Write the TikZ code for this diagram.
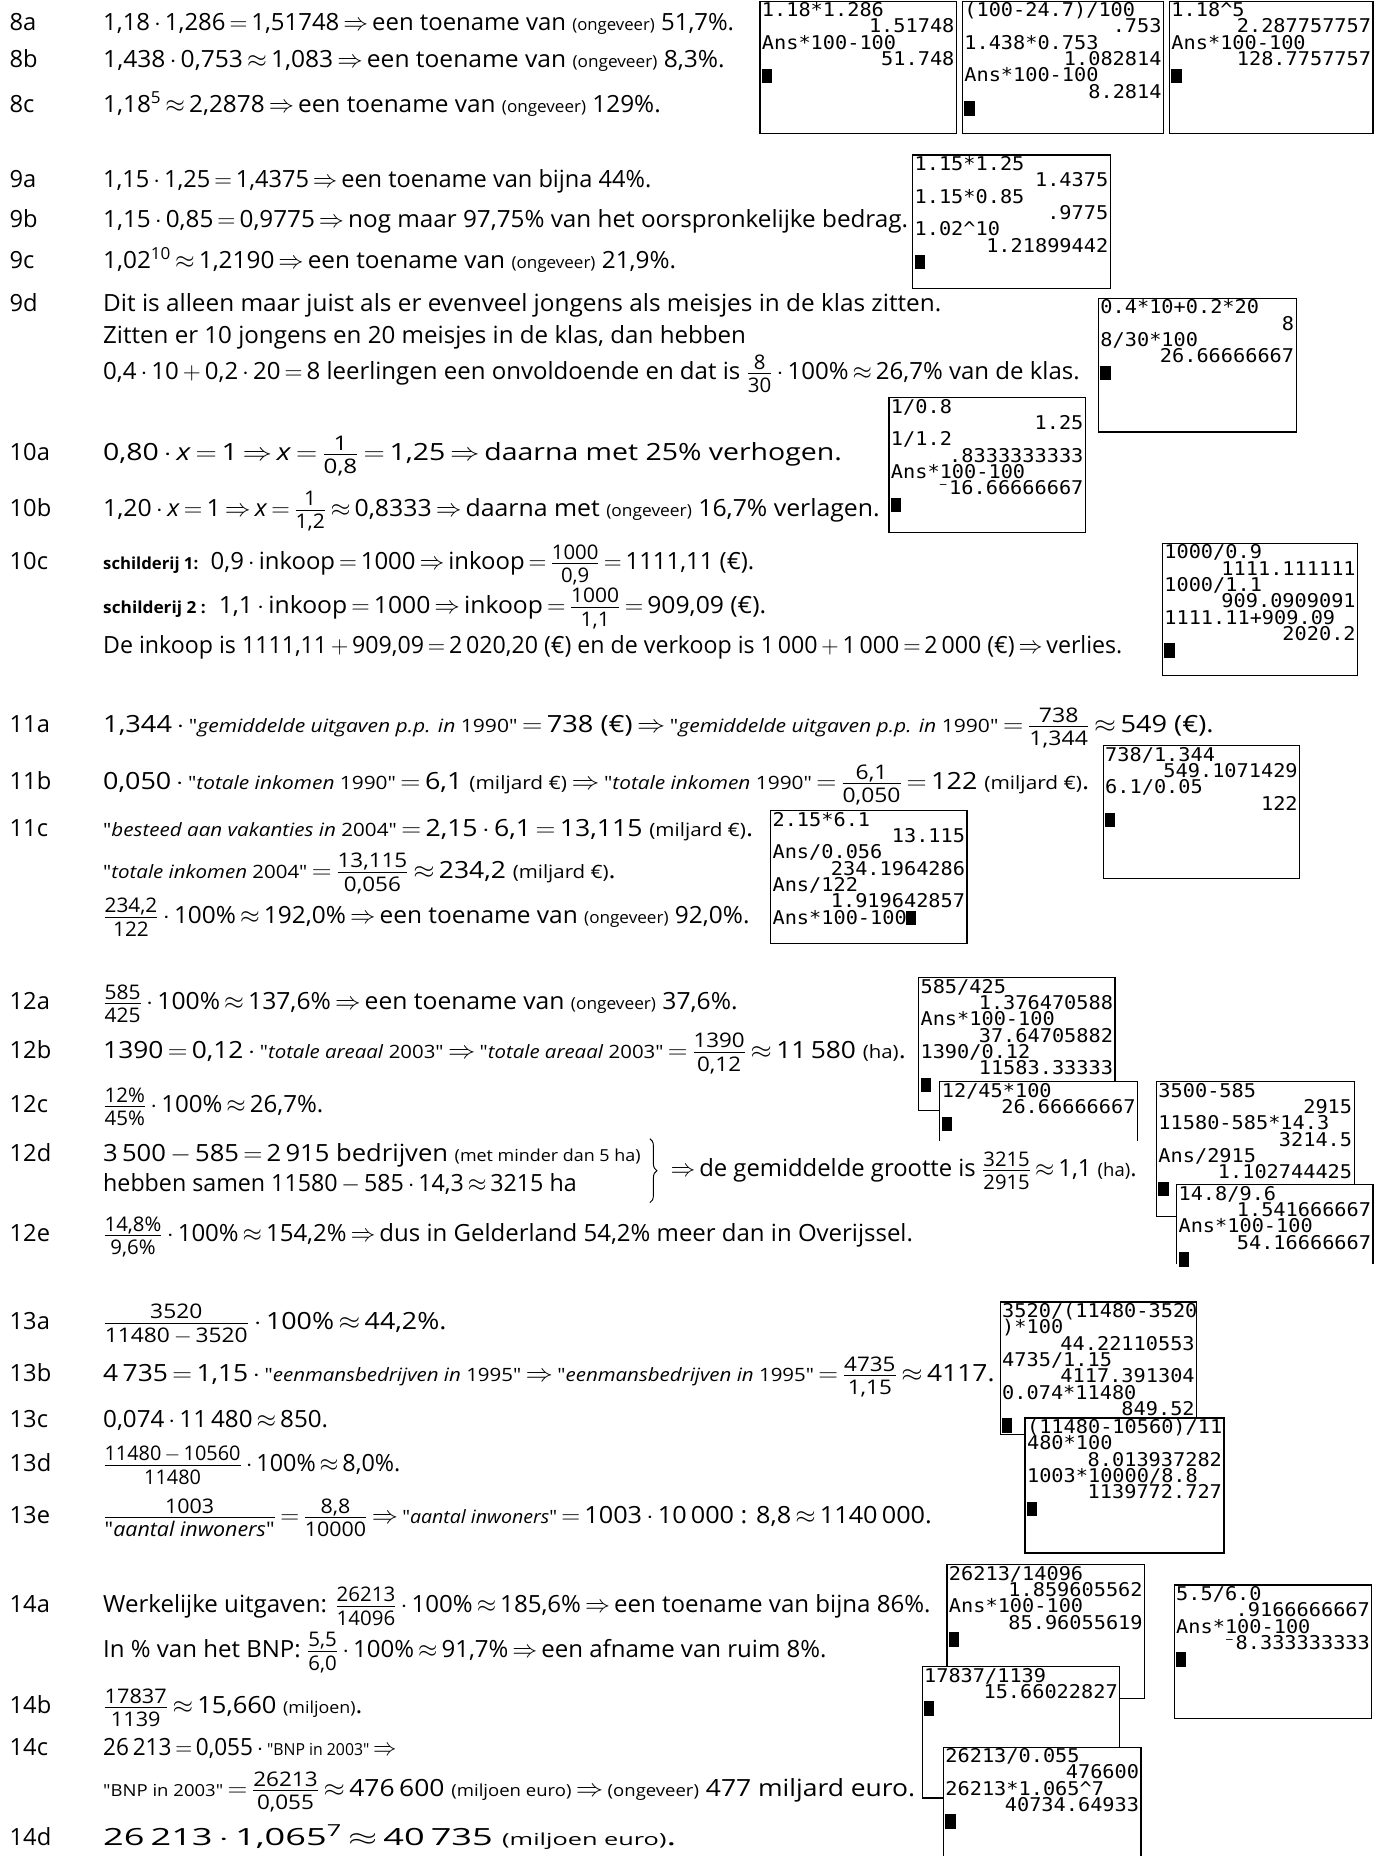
\documentclass[tikz,border=0pt]{standalone}
\usepackage{amsmath}
\usepackage{graphicx}
\usepackage{fontspec}
\setmainfont{Open Sans}[Ligatures=TeXOff]
\newfontfamily\tifont{DejaVu Sans Mono}[FakeStretch=1.07]
\usetikzlibrary{calc,decorations.pathreplacing}
\newcommand\SM[1]{{\fontsize{14}{16}\selectfont #1}}
\newcommand\SQ[1]{{\fontsize{15.5}{17}\selectfont #1}}
\newcommand\DOT{\,$\cdot$\,}
\newcommand\EQ{\,$=$\,}
\newcommand\APX{\,$\approx$\,}
\newcommand\IMP{\,$\Rightarrow$\,}
\newcommand\MIN{\,$-$\,}
\newcommand\PLS{\,$+$\,}
\newcommand\FR[2]{$\genfrac{}{}{0.7pt}{1}{\hbox{\fontsize{17}{19}\selectfont\rule[-2.5pt]{0pt}{2.5pt}#1}}{\hbox{\fontsize{17}{19}\selectfont\rule{0pt}{15pt}#2}}$}
\newcommand\fit[2]{\resizebox{#1pt}{\height}{#2}}
\newcommand\calcbox[5]{\filldraw[calcframe] (#2,#3) rectangle (#4,#5); \coordinate (#1) at (#2,#3); \coordinate (#1e) at (#4,#3);}
\newcommand\calcopen[5]{\fill[white] (#2,#3) rectangle (#4,#5); \draw[calcframe] (#2,#5) -- (#2,#3) -- (#4,#3) -- (#4,#5); \coordinate (#1) at (#2,#3); \coordinate (#1e) at (#4,#3);}
\newcommand\calcL[3]{\node[ctxt,anchor=base west] at ($(#1)+(1.5,{13+13.8*#2})$) {#3};}
\newcommand\calcR[3]{\node[ctxt,anchor=base east] at ($(#1e)+(-1.5,{13+13.8*#2})$) {#3};}
\newcommand\calcCur[3]{\fill ($(#1)+({1.7+10.24*#3},{1.7+13.8*#2})$) rectangle +(8.6,12.1);}
\tikzset{
  txt/.style={anchor=base west, inner sep=0pt, font=\fontsize{20}{23}\selectfont},
  lbl/.style={anchor=base west, inner sep=0pt, font=\fontsize{20}{23}\selectfont},
  calcframe/.style={draw=black, fill=white, line width=1pt},
  ctxt/.style={inner sep=0pt, font=\tifont\fontsize{16}{16}\selectfont}
}
\begin{document}
\begin{tikzpicture}[x=1pt,y=-1pt]
\useasboundingbox (0,0) rectangle (1168,1568);
\fill[white] (0,0) rectangle (1168,1568);

% ---------- 8 ----------
\node[lbl] (l8a) at (8,26) {8a};
\node[txt] (t8a) at (87,26) {\fit{533}{1,18\DOT1,286\EQ1,51748\IMP een toename van \SM{(ongeveer)} 51,7\%.}};
\node[lbl] (l8b) at (8,57) {8b};
\node[txt] (t8b) at (87,57) {\fit{525}{1,438\DOT0,753\APX1,083\IMP een toename van \SM{(ongeveer)} 8,3\%.}};
\node[lbl] (l8c) at (8,95) {8c};
\node[txt] (t8c) at (87,95) {\fit{471}{1,18\textsuperscript{5}\APX2,2878\IMP een toename van \SM{(ongeveer)} 129\%.}};

% ---------- 9 ----------
\node[lbl] (l9a) at (8,158) {9a};
\node[txt] (t9a) at (87,158) {\fit{463}{1,15\DOT1,25\EQ1,4375\IMP een toename van bijna 44\%.}};
\node[lbl] (l9b) at (8,192) {9b};
\node[txt] (t9b) at (87,192) {\fit{680}{1,15\DOT0,85\EQ0,9775\IMP nog maar 97,75\% van het oorspronkelijke bedrag.}};
\node[lbl] (l9c) at (8,227) {9c};
\node[txt] (t9c) at (87,227) {\fit{484}{1,02\textsuperscript{10}\APX1,2190\IMP een toename van \SM{(ongeveer)} 21,9\%.}};
\node[lbl] (l9d) at (8,263) {9d};
\node[txt] (t9d1) at (87,263) {\fit{708}{Dit is alleen maar juist als er evenveel jongens als meisjes in de klas zitten.}};
\node[txt] (t9d2) at (87,290) {\fit{543}{Zitten er 10 jongens en 20 meisjes in de klas, dan hebben}};
\node[txt] (t9d3) at (87,321) {\fit{825}{0,4\DOT10\PLS0,2\DOT20\EQ8 leerlingen een onvoldoende en dat is \FR{8}{30}\DOT100\%\APX26,7\% van de klas.}};

% ---------- 10 ----------
\node[lbl] (l10a) at (8,389) {10a};
\node[txt] (t10a) at (87,389) {\fit{624}{0,80\DOT\textit{x}\EQ1\IMP\textit{x}\EQ\FR{1}{0,8}\EQ1,25\IMP daarna met 25\% verhogen.}};
\node[lbl] (l10b) at (8,436) {10b};
\node[txt] (t10b) at (87,436) {\fit{656}{1,20\DOT\textit{x}\EQ1\IMP\textit{x}\EQ\FR{1}{1,2}\APX0,8333\IMP daarna met \SM{(ongeveer)} 16,7\% verlagen.}};
\node[lbl] (l10c) at (8,481) {10c};
\node[txt] (t10c1) at (87,481) {\fit{550}{\SM{\bfseries schilderij 1:}\ \ 0,9\DOT inkoop\EQ1000\IMP inkoop\EQ\FR{1000}{0,9}\EQ1111,11 (€).}};
\node[txt] (t10c2) at (87,518) {\fit{560}{\SM{\bfseries schilderij 2 :}\ \ 1,1\DOT inkoop\EQ1000\IMP inkoop\EQ\FR{1000}{1,1}\EQ909,09 (€).}};
\node[txt] (t10c3) at (87,552) {\fit{861}{De inkoop is 1111,11\PLS909,09\EQ2\,020,20 (€) en de verkoop is 1\,000\PLS1\,000\EQ2\,000 (€)\IMP verlies.}};

% ---------- 11 ----------
\node[lbl] (l11a) at (8,619) {11a};
\node[txt] (t11a) at (87,619) {\fit{938}{1,344\DOT\SQ{"\textit{gemiddelde uitgaven p.p. in} 1990"}\EQ738 (€)\IMP\SQ{"\textit{gemiddelde uitgaven p.p. in} 1990"}\EQ\FR{738}{1,344}\APX549 (€).}};
\node[lbl] (l11b) at (8,667) {11b};
\node[txt] (t11b) at (87,667) {\fit{833}{0,050\DOT\SQ{"\textit{totale inkomen} 1990"}\EQ6,1 \SQ{(miljard €)}\IMP\SQ{"\textit{totale inkomen} 1990"}\EQ\FR{6,1}{0,050}\EQ122 \SQ{(miljard €)}.}};
\node[lbl] (l11c) at (8,707) {11c};
\node[txt] (t11c1) at (87,707) {\fit{549}{\SQ{"\textit{besteed aan vakanties in} 2004"}\EQ2,15\DOT6,1\EQ13,115 \SQ{(miljard €)}.}};
\node[txt] (t11c2) at (87,742) {\fit{433}{\SQ{"\textit{totale inkomen} 2004"}\EQ\FR{13,115}{0,056}\APX234,2 \SQ{(miljard €)}.}};
\node[txt] (t11c3) at (87,780) {\fit{546}{\FR{234,2}{122}\DOT100\%\APX192,0\%\IMP een toename van \SM{(ongeveer)} 92,0\%.}};

% ---------- 12 ----------
\node[lbl] (l12a) at (8,853) {12a};
\node[txt] (t12a) at (87,853) {\fit{536}{\FR{585}{425}\DOT100\%\APX137,6\%\IMP een toename van \SM{(ongeveer)} 37,6\%.}};
\node[lbl] (l12b) at (8,894) {12b};
\node[txt] (t12b) at (87,894) {\fit{678}{1390\EQ0,12\DOT\SQ{"\textit{totale areaal} 2003"}\IMP\SQ{"\textit{totale areaal} 2003"}\EQ\FR{1390}{0,12}\APX11\,580 \SQ{(ha)}.}};
\node[lbl] (l12c) at (8,940) {12c};
\node[txt] (t12c) at (87,940) {\fit{186}{\FR{12\%}{45\%}\DOT100\%\APX26,7\%.}};
\node[lbl] (l12d) at (8,981) {12d};
\node[txt] (t12d1) at (87,981) {\fit{454}{3\,500\MIN585\EQ2\,915 bedrijven \SM{(met minder dan 5 ha)}}};
\node[txt] (t12d2) at (87,1007) {\fit{400}{hebben samen 11580\MIN585\DOT14,3\APX3215 ha}};
\coordinate (b1) at (549,962);
\coordinate (b2) at (549,1016);
\draw[line width=0.8pt, decorate, decoration={brace, amplitude=6pt}] (b1) -- (b2);
\node[txt] (t12d3) at (563,994) {\fit{397}{\IMP de gemiddelde grootte is \FR{3215}{2915}\APX1,1 \SQ{(ha)}.}};
\node[lbl] (l12e) at (8,1049) {12e};
\node[txt] (t12e) at (87,1049) {\fit{684}{\FR{14,8\%}{9,6\%}\DOT100\%\APX154,2\%\IMP dus in Gelderland 54,2\% meer dan in Overijssel.}};

% ---------- 13 ----------
\node[lbl] (l13a) at (8,1123) {13a};
\node[txt] (t13a) at (87,1123) {\fit{290}{\FR{3520}{11480\MIN3520}\DOT100\%\APX44,2\%.}};
\node[lbl] (l13b) at (8,1167) {13b};
\node[txt] (t13b) at (87,1167) {\fit{753}{4\,735\EQ1,15\DOT\SQ{"\textit{eenmansbedrijven in} 1995"}\IMP\SQ{"\textit{eenmansbedrijven in} 1995"}\EQ\FR{4735}{1,15}\APX4117.}};
\node[lbl] (l13c) at (8,1206) {13c};
\node[txt] (t13c) at (87,1206) {\fit{190}{0,074\DOT11\,480\APX850.}};
\node[lbl] (l13d) at (8,1243) {13d};
\node[txt] (t13d) at (87,1243) {\fit{251}{\FR{11480\MIN10560}{11480}\DOT100\%\APX8,0\%.}};
\node[lbl] (l13e) at (8,1287) {13e};
\node[txt] (t13e) at (87,1287) {\fit{700}{\FR{1003}{"\textit{aantal inwoners}"}\EQ\FR{8,8}{10000}\IMP\SQ{"\textit{aantal inwoners}"}\EQ1003\DOT10\,000 : 8,8\APX1140\,000.}};

% ---------- 14 ----------
\node[lbl] (l14a) at (8,1362) {14a};
\node[txt] (t14a1) at (87,1362) {\fit{699}{Werkelijke uitgaven: \FR{26213}{14096}\DOT100\%\APX185,6\%\IMP een toename van bijna 86\%.}};
\node[txt] (t14a2) at (87,1400) {\fit{611}{In \% van het BNP: \FR{5,5}{6,0}\DOT100\%\APX91,7\%\IMP een afname van ruim 8\%.}};
\node[lbl] (l14b) at (8,1448) {14b};
\node[txt] (t14b) at (87,1448) {\fit{219}{\FR{17837}{1139}\APX15,660 \SM{(miljoen)}.}};
\node[lbl] (l14c) at (8,1483) {14c};
\node[txt] (t14c1) at (87,1483) {\fit{251}{26\,213\EQ0,055\DOT\SM{"BNP in 2003"}\IMP}};
\node[txt] (t14c2) at (87,1518) {\fit{686}{\SM{"BNP in 2003"}\EQ\FR{26213}{0,055}\APX476\,600 \SM{(miljoen euro)}\IMP\SM{(ongeveer)} 477 miljard euro.}};
\node[lbl] (l14d) at (8,1559) {14d};
\node[txt] (t14d) at (87,1559) {\fit{484}{26\,213\DOT1,065\textsuperscript{7}\APX40\,735 \SM{(miljoen euro)}.}};

% ---------- calculator screens ----------
\calcbox{c8a}{642}{1}{808}{113}
\calcL{c8a}{0}{1.18*1.286} \calcR{c8a}{1}{1.51748}
\calcL{c8a}{2}{Ans*100-100} \calcR{c8a}{3}{51.748} \calcCur{c8a}{4}{0}

\calcbox{c8b}{813}{1}{983}{113}
\calcL{c8b}{0}{(100-24.7)/100} \calcR{c8b}{1}{.753}
\calcL{c8b}{2}{1.438*0.753} \calcR{c8b}{3}{1.082814}
\calcL{c8b}{4}{Ans*100-100} \calcR{c8b}{5}{8.2814} \calcCur{c8b}{6}{0}

\calcbox{c8c}{988}{1}{1160}{113}
\calcL{c8c}{0}{1.18\^{}5} \calcR{c8c}{1}{2.287757757}
\calcL{c8c}{2}{Ans*100-100} \calcR{c8c}{3}{128.7757757} \calcCur{c8c}{4}{0}

\calcbox{c9}{771}{131}{938}{244}
\calcL{c9}{0}{1.15*1.25} \calcR{c9}{1}{1.4375}
\calcL{c9}{2}{1.15*0.85} \calcR{c9}{3}{.9775}
\calcL{c9}{4}{1.02\^{}10} \calcR{c9}{5}{1.21899442} \calcCur{c9}{6}{0}

\calcbox{c9d}{928}{252}{1095}{365}
\calcL{c9d}{0}{0.4*10+0.2*20} \calcR{c9d}{1}{8}
\calcL{c9d}{2}{8/30*100} \calcR{c9d}{3}{26.66666667} \calcCur{c9d}{4}{0}

\calcbox{c10}{751}{336}{917}{450}
\calcL{c10}{0}{1/0.8} \calcR{c10}{1}{1.25}
\calcL{c10}{2}{1/1.2} \calcR{c10}{3}{.8333333333}
\calcL{c10}{4}{Ans*100-100} \calcR{c10}{5}{⁻16.66666667} \calcCur{c10}{6}{0}

\calcbox{c10c}{982}{459}{1147}{571}
\calcL{c10c}{0}{1000/0.9} \calcR{c10c}{1}{1111.111111}
\calcL{c10c}{2}{1000/1.1} \calcR{c10c}{3}{909.0909091}
\calcL{c10c}{4}{1111.11+909.09} \calcR{c10c}{5}{2020.2} \calcCur{c10c}{6}{0}

\calcbox{c11}{932}{630}{1098}{742}
\calcL{c11}{0}{738/1.344} \calcR{c11}{1}{549.1071429}
\calcL{c11}{2}{6.1/0.05} \calcR{c11}{3}{122} \calcCur{c11}{4}{0}

\calcbox{c11c}{651}{685}{817}{797}
\calcL{c11c}{0}{2.15*6.1} \calcR{c11c}{1}{13.115}
\calcL{c11c}{2}{Ans/0.056} \calcR{c11c}{3}{234.1964286}
\calcL{c11c}{4}{Ans/122} \calcR{c11c}{5}{1.919642857}
\calcL{c11c}{6}{Ans*100-100} \calcCur{c11c}{6}{11}

\calcbox{c12}{776}{826}{942}{938}
\calcL{c12}{0}{585/425} \calcR{c12}{1}{1.376470588}
\calcL{c12}{2}{Ans*100-100} \calcR{c12}{3}{37.64705882}
\calcL{c12}{4}{1390/0.12} \calcR{c12}{5}{11583.33333} \calcCur{c12}{6}{0}

\calcopen{c12c}{794}{914}{961}{964}
\calcL{c12c}{0}{12/45*100} \calcR{c12c}{1}{26.66666667} \calcCur{c12c}{2}{0}

\calcbox{c12d}{977}{914}{1144}{1028}
\calcL{c12d}{0}{3500-585} \calcR{c12d}{1}{2915}
\calcL{c12d}{2}{11580-585*14.3} \calcR{c12d}{3}{3214.5}
\calcL{c12d}{4}{Ans/2915} \calcR{c12d}{5}{1.102744425} \calcCur{c12d}{6}{0}

\calcopen{c12e}{994}{1001}{1160}{1068}
\calcL{c12e}{0}{14.8/9.6} \calcR{c12e}{1}{1.541666667}
\calcL{c12e}{2}{Ans*100-100} \calcR{c12e}{3}{54.16666667} \calcCur{c12e}{4}{0}

\calcbox{c13}{845}{1100}{1011}{1212}
\calcL{c13}{0}{3520/(11480-3520} \calcL{c13}{1}{)*100} \calcR{c13}{2}{44.22110553}
\calcL{c13}{3}{4735/1.15} \calcR{c13}{4}{4117.391304}
\calcL{c13}{5}{0.074*11480} \calcR{c13}{6}{849.52} \calcCur{c13}{7}{0}

\calcbox{c13d}{866}{1198}{1034}{1312}
\calcL{c13d}{0}{(11480-10560)/11} \calcL{c13d}{1}{480*100} \calcR{c13d}{2}{8.013937282}
\calcL{c13d}{3}{1003*10000/8.8} \calcR{c13d}{4}{1139772.727} \calcCur{c13d}{5}{0}

\calcbox{c14a}{800}{1322}{967}{1435}
\calcL{c14a}{0}{26213/14096} \calcR{c14a}{1}{1.859605562}
\calcL{c14a}{2}{Ans*100-100} \calcR{c14a}{3}{85.96055619} \calcCur{c14a}{4}{0}

\calcbox{c14b}{779}{1408}{946}{1519}
\calcL{c14b}{0}{17837/1139} \calcR{c14b}{1}{15.66022827} \calcCur{c14b}{2}{0}

\calcopen{c14c}{797}{1476}{964}{1568}
\calcL{c14c}{0}{26213/0.055} \calcR{c14c}{1}{476600}
\calcL{c14c}{2}{26213*1.065\^{}7} \calcR{c14c}{3}{40734.64933} \calcCur{c14c}{4}{0}

\calcbox{c14a2}{992}{1339}{1159}{1452}
\calcL{c14a2}{0}{5.5/6.0} \calcR{c14a2}{1}{.9166666667}
\calcL{c14a2}{2}{Ans*100-100} \calcR{c14a2}{3}{⁻8.333333333} \calcCur{c14a2}{4}{0}
\end{tikzpicture}
\end{document}
